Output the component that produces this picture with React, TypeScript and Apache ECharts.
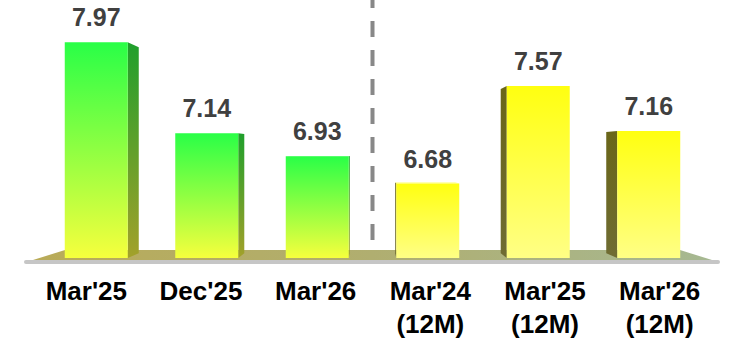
import React, { useEffect, useRef } from "react";
import * as echarts from "echarts";

const categories = ["Mar'25", "Dec'25", "Mar'26", "Mar'24\n(12M)", "Mar'25\n(12M)", "Mar'26\n(12M)"];
const values = [7.97, 7.14, 6.93, 6.68, 7.57, 7.16];
const groups = [0, 0, 0, 1, 1, 1];
const yMin = 6;
const yMax = 8;

const FONT = "'Liberation Sans', Arial, Helvetica, sans-serif";

const frontColors = [
  ["#29ff47", "#f6ff3d"],
  ["#ffff10", "#ffff85"],
];
const sideColors = [
  ["#1f9f2c", "#a3a12a"],
  ["#6a6619", "#6f6c33"],
];

const grad = (c: string[], horizontal = false) => ({
  type: "linear",
  x: 0,
  y: 0,
  x2: horizontal ? 1 : 0,
  y2: horizontal ? 0 : 1,
  colorStops: c.map((color, i) => ({ offset: i / (c.length - 1), color })),
});

export default function App() {
  const ref = useRef<HTMLDivElement>(null);
  useEffect(() => {
    if (!ref.current) return;
    const chart = echarts.init(ref.current, null, { renderer: "svg" });
    const barData = values.map((v, i) => [i, v, groups[i]]);

    const option: any = {
      animation: false,
      grid: [
        { left: 41, right: 31, top: 39, bottom: 87 },
        { left: 29, right: 18, top: 39, bottom: 87 },
      ],
      xAxis: [
        {
          type: "category",
          data: categories,
          gridIndex: 0,
          axisLine: { show: false },
          axisTick: { show: false },
          axisLabel: { show: false },
        },
        {
          type: "category",
          data: categories,
          gridIndex: 1,
          axisLine: { show: false },
          axisTick: { show: false },
          axisLabel: {
            color: "#000",
            fontWeight: "bold",
            fontSize: 26,
            lineHeight: 33,
            fontFamily: FONT,
            margin: 16,
          },
        },
      ],
      yAxis: [
        { type: "value", min: yMin, max: yMax, show: false, gridIndex: 0 },
        { type: "value", min: yMin, max: yMax, show: false, gridIndex: 1 },
      ],
      series: [
        {
          type: "custom",
          z: 1,
          data: [[0, yMin]],
          renderItem: (params: any, api: any) => {
            const cs = params.coordSys;
            const base = api.coord([0, yMin])[1];
            const left = cs.x;
            const right = cs.x + cs.width;
            const sepX = (api.coord([2, yMin])[0] + api.coord([3, yMin])[0]) / 2;
            return {
              type: "group",
              children: [
                {
                  type: "line",
                  shape: { x1: left - 15, y1: base + 4, x2: right + 14, y2: base + 4 },
                  style: { stroke: "#c6c6c6", lineWidth: 4, lineCap: "round" },
                },
                {
                  type: "polygon",
                  shape: {
                    points: [
                      [left - 8, base + 2],
                      [left + 24, base - 8],
                      [right - 24, base - 8],
                      [right + 8, base + 2],
                    ],
                  },
                  style: { fill: grad(["#b9ab58", "#b0ae70", "#a6b892"], true) },
                },
                {
                  type: "line",
                  shape: { x1: sepX, y1: cs.y - 47, x2: sepX, y2: base - 17 },
                  style: { stroke: "#888888", lineWidth: 4, lineDash: [16, 13] },
                },
              ],
            };
          },
        },
        {
          type: "custom",
          z: 2,
          data: barData,
          encode: { x: 0, y: 1 },
          renderItem: (params: any, api: any) => {
            const cs = params.coordSys;
            const idx = api.value(0);
            const val = api.value(1);
            const g = api.value(2);
            const top = api.coord([idx, val]);
            const bot = api.coord([idx, yMin]);
            const bw = api.size([1, 0])[0] * 0.57;
            const cx = top[0];
            const x0 = cx - bw / 2;
            const x1 = cx + bw / 2;
            const yt = top[1];
            const yb = bot[1];
            const vpx = cs.x + cs.width / 2;
            const vpy = api.coord([0, 6.96])[1];
            const k = 0.045;
            const back = (p: number[]) => [p[0] + (vpx - p[0]) * k, p[1] + (vpy - p[1]) * k];
            const edge = cx < vpx ? x1 : x0;
            const children: any[] = [
              {
                type: "polygon",
                shape: { points: [[edge, yt], back([edge, yt]), back([edge, yb]), [edge, yb]] },
                style: { fill: grad(sideColors[g]) },
              },
            ];
            if (yt > vpy) {
              children.push({
                type: "polygon",
                shape: { points: [[x0, yt], [x1, yt], back([x1, yt]), back([x0, yt])] },
                style: { fill: g === 0 ? "#7dff6a" : "#ffff9a" },
              });
            }
            children.push({
              type: "rect",
              shape: { x: x0, y: yt, width: bw, height: yb - yt },
              style: { fill: grad(frontColors[g]) },
            });
            children.push({
              type: "text",
              x: cx,
              y: yt - 25,
              style: {
                text: val.toFixed(2),
                align: "center",
                verticalAlign: "middle",
                fontSize: 25,
                fontWeight: "bold",
                fontFamily: FONT,
                fill: "#404040",
              },
            });
            return { type: "group", children };
          },
        },
      ],
    };
    chart.setOption(option);
    return () => chart.dispose();
  }, []);
  return (
    <div
      ref={ref}
      style={{ position: "fixed", left: 0, top: 0, width: 735, height: 345, background: "#fff" }}
    />
  );
}
